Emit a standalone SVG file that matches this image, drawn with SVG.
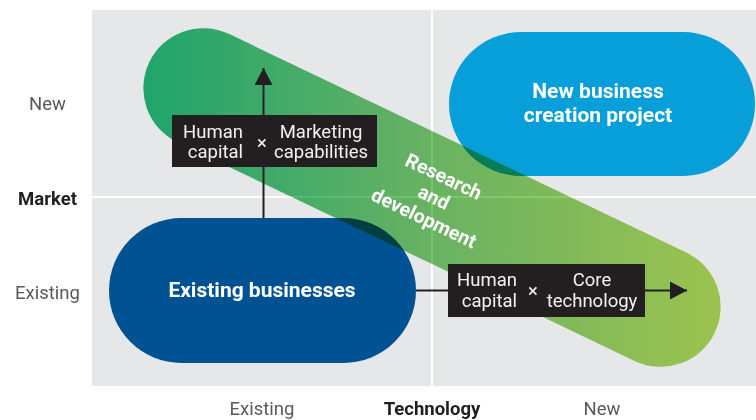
<svg xmlns="http://www.w3.org/2000/svg" width="756" height="420" viewBox="0 0 756 420">
  <defs>
    <linearGradient id="rdGrad" gradientUnits="userSpaceOnUse" x1="143" y1="0" x2="721" y2="0">
      <stop offset="0" stop-color="#22b577"/>
      <stop offset="0.5" stop-color="#74c56c"/>
      <stop offset="1" stop-color="#add757"/>
    </linearGradient>
    <marker id="arrowHead" markerUnits="userSpaceOnUse" viewBox="0 0 17 18" refX="17" refY="9" markerWidth="17" markerHeight="18" orient="auto">
      <path d="M0,0 L17,9 L0,18 Z" fill="#231f20"/>
    </marker>
    <style>
      .axis { font-family: Roboto, "Liberation Sans", sans-serif; font-size: 18.5px; fill: #58595b; text-anchor: middle; }
      .axis-title { font-family: Roboto, "Liberation Sans", sans-serif; font-size: 18.5px; font-weight: 700; fill: #231f20; text-anchor: middle; }
      .pill-label { font-family: Roboto, "Liberation Sans", sans-serif; font-size: 21px; font-weight: 700; fill: #ffffff; text-anchor: middle; }
      .rd-label { font-family: Roboto, "Liberation Sans", sans-serif; font-size: 19.5px; font-weight: 700; fill: #ffffff; text-anchor: middle; }
      .box { fill: #231f20; }
      .box-text { font-family: Roboto, "Liberation Sans", sans-serif; font-size: 18.5px; fill: #f1f1f2; }
      .connector { stroke: #231f20; stroke-width: 2; fill: none; }
    </style>
  </defs>

  <!-- quadrant field -->
  <rect x="92" y="10" width="664" height="376" fill="#e6e7e8"/>
  <line x1="432" y1="10" x2="432" y2="386" stroke="#ffffff" stroke-width="2"/>
  <line x1="92" y1="197" x2="756" y2="197" stroke="#ffffff" stroke-width="2"/>

  <!-- axis labels -->
  <g id="axis-market">
    <text class="axis" x="47.5" y="110">New</text>
    <text class="axis-title" x="47.5" y="205">Market</text>
    <text class="axis" x="47.5" y="299">Existing</text>
  </g>
  <g id="axis-technology">
    <text class="axis" x="262" y="415">Existing</text>
    <text class="axis-title" x="432" y="415">Technology</text>
    <text class="axis" x="602" y="415">New</text>
  </g>

  <!-- new business creation project -->
  <g id="new-business">
    <rect x="449" y="32" width="306" height="144" rx="72" fill="#079fd9"/>
  </g>

  <!-- existing businesses -->
  <g id="existing-businesses">
    <rect x="109" y="218" width="307" height="145" rx="72.5" fill="#005293"/>
  </g>

  <!-- research and development band -->
  <g id="research-development">
    <path d="M228.88,33.87 L686.88,252.87 A60,60 0 0 1 635.12,361.13 L177.12,142.13 A60,60 0 0 1 228.88,33.87 Z" fill="url(#rdGrad)" style="mix-blend-mode:multiply"/>
    <g transform="translate(434,197) rotate(25.5)">
      <text class="rd-label" x="0" y="-16">Research</text>
      <text class="rd-label" x="0" y="7">and</text>
      <text class="rd-label" x="0" y="30">development</text>
    </g>
  </g>

  <!-- pill titles -->
  <g id="pill-titles">
    <text class="pill-label" x="598" y="98">New business</text>
    <text class="pill-label" x="598" y="122">creation project</text>
    <text class="pill-label" x="262" y="297">Existing businesses</text>
  </g>

  <!-- connectors -->
  <g id="connectors">
    <line class="connector" x1="263.5" y1="218" x2="263.5" y2="68" marker-end="url(#arrowHead)"/>
    <line class="connector" x1="416" y1="290.5" x2="687" y2="290.5" marker-end="url(#arrowHead)"/>
  </g>

  <!-- human capital x marketing capabilities -->
  <g id="label-marketing">
    <rect class="box" x="172" y="115" width="205" height="52"/>
    <text class="box-text" x="243" y="137.5" text-anchor="end">Human</text>
    <text class="box-text" x="243" y="158" text-anchor="end">capital</text>
    <text class="box-text" x="262" y="149" text-anchor="middle">×</text>
    <text class="box-text" x="321" y="137.5" text-anchor="middle">Marketing</text>
    <text class="box-text" x="321" y="158" text-anchor="middle">capabilities</text>
  </g>

  <!-- human capital x core technology -->
  <g id="label-technology">
    <rect class="box" x="448" y="264" width="197" height="53"/>
    <text class="box-text" x="517" y="285.5" text-anchor="end">Human</text>
    <text class="box-text" x="517" y="307" text-anchor="end">capital</text>
    <text class="box-text" x="533" y="297" text-anchor="middle">×</text>
    <text class="box-text" x="592" y="285.5" text-anchor="middle">Core</text>
    <text class="box-text" x="592" y="307" text-anchor="middle">technology</text>
  </g>
</svg>
